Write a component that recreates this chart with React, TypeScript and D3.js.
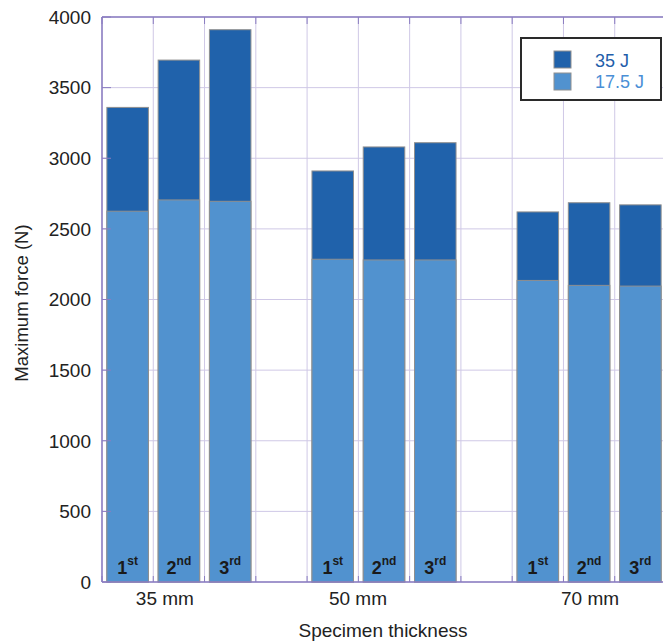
import { useEffect, useRef } from 'react'
import * as d3 from 'd3'

const groups = ['35 mm', '50 mm', '70 mm']
const runs = ['1st', '2nd', '3rd']
const runBase = ['1', '2', '3']
const runSup = ['st', 'nd', 'rd']
// one array per impact energy, group-major order
const force35J = [3360, 3695, 3910, 2910, 3080, 3110, 2620, 2685, 2670]
const force175J = [2625, 2705, 2695, 2285, 2280, 2280, 2135, 2100, 2095]
const yTicks = [0, 500, 1000, 1500, 2000, 2500, 3000, 3500, 4000]
const series = [
  { label: '35 J', color: '#2062ab', text: '#1f5eaa' },
  { label: '17.5 J', color: '#5192cf', text: '#4a8fd6' },
]

const W = 663
const H = 644
const margin = { top: 17, right: -3, bottom: 62, left: 102 }
const gridColor = '#cfc8e6'
const axisColor = '#8a7cc0'
const font = '"Liberation Sans", Arial, sans-serif'
const fs = 19

export default function App() {
  const ref = useRef<SVGSVGElement>(null)

  useEffect(() => {
    if (!ref.current) return
    d3.select(ref.current).selectAll('*').remove()
    render(ref.current)
  }, [])

  return (
    <svg
      ref={ref}
      width={W}
      height={H}
      style={{ position: 'absolute', left: 0, top: 0, display: 'block', background: '#fff' }}
    />
  )
}

function render(el: SVGSVGElement) {
  const inner = { w: W - margin.left - margin.right, h: H - margin.top - margin.bottom }
  const svg = d3.select(el).style('font-family', font)
  const g = svg.append('g').attr('transform', `translate(${margin.left},${margin.top})`)

  // slots: three bars per group plus an empty slot between groups
  const slots: string[] = []
  groups.forEach((grp, gi) => {
    runs.forEach((r) => slots.push(`${grp}|${r}`))
    if (gi < groups.length - 1) slots.push(`gap${gi}`)
  })

  const x = d3.scaleBand().domain(slots).range([0, inner.w]).padding(0)
  const y = d3.scaleLinear().domain([0, 4000]).range([inner.h, 0])
  const barW = x.bandwidth() * 0.81

  // Grid
  yTicks.forEach((t) => {
    g.append('line')
      .attr('x1', 0).attr('x2', inner.w)
      .attr('y1', y(t)).attr('y2', y(t))
      .attr('stroke', gridColor).attr('stroke-width', 1)
  })
  slots.forEach((s) => {
    const xs = x(s)!
    g.append('line')
      .attr('x1', xs).attr('x2', xs)
      .attr('y1', 0).attr('y2', inner.h)
      .attr('stroke', gridColor).attr('stroke-width', 1)
  })

  // Bars (overlapping, 35 J behind 17.5 J)
  const drawBars = (vals: number[], color: string) => {
    groups.forEach((grp, gi) => {
      runs.forEach((r, ri) => {
        const v = vals[gi * 3 + ri]
        const cx = x(`${grp}|${r}`)! + x.bandwidth() / 2
        g.append('rect')
          .attr('x', cx - barW / 2)
          .attr('y', y(v))
          .attr('width', barW)
          .attr('height', inner.h - y(v))
          .attr('fill', color)
          .attr('stroke', '#8f8f8f')
          .attr('stroke-width', 1)
      })
    })
  }
  drawBars(force35J, series[0].color)
  drawBars(force175J, series[1].color)

  // Run labels inside bars
  groups.forEach((grp) => {
    runs.forEach((r, ri) => {
      const cx = x(`${grp}|${r}`)! + x.bandwidth() / 2
      const t = g.append('text')
        .attr('x', cx)
        .attr('y', inner.h - 8)
        .attr('text-anchor', 'middle')
        .attr('font-size', 18)
        .attr('font-weight', 'bold')
        .attr('fill', '#1a1a1a')
      t.append('tspan').text(runBase[ri])
      t.append('tspan')
        .attr('font-size', 12)
        .attr('dy', -9)
        .text(runSup[ri])
    })
  })

  // Axes frame
  g.append('line')
    .attr('x1', 0).attr('x2', 0).attr('y1', 0).attr('y2', inner.h)
    .attr('stroke', axisColor).attr('stroke-width', 1.5)
  g.append('line')
    .attr('x1', 0).attr('x2', inner.w).attr('y1', inner.h).attr('y2', inner.h)
    .attr('stroke', axisColor).attr('stroke-width', 1.5)
  g.append('line')
    .attr('x1', 0).attr('x2', inner.w).attr('y1', 0).attr('y2', 0)
    .attr('stroke', axisColor).attr('stroke-width', 1.5)

  // tick marks
  yTicks.forEach((t) => {
    g.append('line')
      .attr('x1', 0).attr('x2', 9).attr('y1', y(t)).attr('y2', y(t))
      .attr('stroke', axisColor).attr('stroke-width', 1)
  })
  slots.forEach((s) => {
    const xs = x(s)!
    g.append('line')
      .attr('x1', xs).attr('x2', xs).attr('y1', inner.h).attr('y2', inner.h - 6)
      .attr('stroke', axisColor).attr('stroke-width', 1)
    g.append('line')
      .attr('x1', xs).attr('x2', xs).attr('y1', 0).attr('y2', 7)
      .attr('stroke', axisColor).attr('stroke-width', 1)
  })

  // Y tick labels
  yTicks.forEach((t) => {
    g.append('text')
      .attr('x', -11)
      .attr('y', y(t))
      .attr('dy', '0.36em')
      .attr('text-anchor', 'end')
      .attr('font-size', fs)
      .attr('fill', '#222')
      .text(t)
  })

  // group labels
  const labelShift = [-14, -26, 1]
  groups.forEach((grp, gi) => {
    const cx = x(`${grp}|${runs[1]}`)! + x.bandwidth() / 2
    g.append('text')
      .attr('x', cx + labelShift[gi])
      .attr('y', inner.h + 23)
      .attr('text-anchor', 'middle')
      .attr('font-size', fs)
      .attr('fill', '#222')
      .text(grp)
  })

  // axis titles
  svg.append('text')
    .attr('x', 383)
    .attr('y', H - 7)
    .attr('text-anchor', 'middle')
    .attr('font-size', fs)
    .attr('fill', '#222')
    .text('Specimen thickness')
  svg.append('text')
    .attr('transform', 'rotate(-90)')
    .attr('x', -303)
    .attr('y', 28)
    .attr('text-anchor', 'middle')
    .attr('font-size', 18.5)
    .attr('fill', '#222')
    .text('Maximum force (N)')

  // Legend
  const lg = svg.append('g').attr('transform', 'translate(521,38)')
  lg.append('rect')
    .attr('width', 140).attr('height', 62)
    .attr('fill', '#fff').attr('stroke', '#2a2a2a').attr('stroke-width', 2)
  series.forEach((s, i) => {
    lg.append('rect')
      .attr('x', 33).attr('y', 13 + i * 22)
      .attr('width', 17).attr('height', 17)
      .attr('fill', s.color).attr('stroke', '#8f8f8f')
    lg.append('text')
      .attr('x', 74).attr('y', 29 + i * 21)
      .attr('font-size', 18)
      .attr('fill', s.text)
      .text(s.label)
  })
}
